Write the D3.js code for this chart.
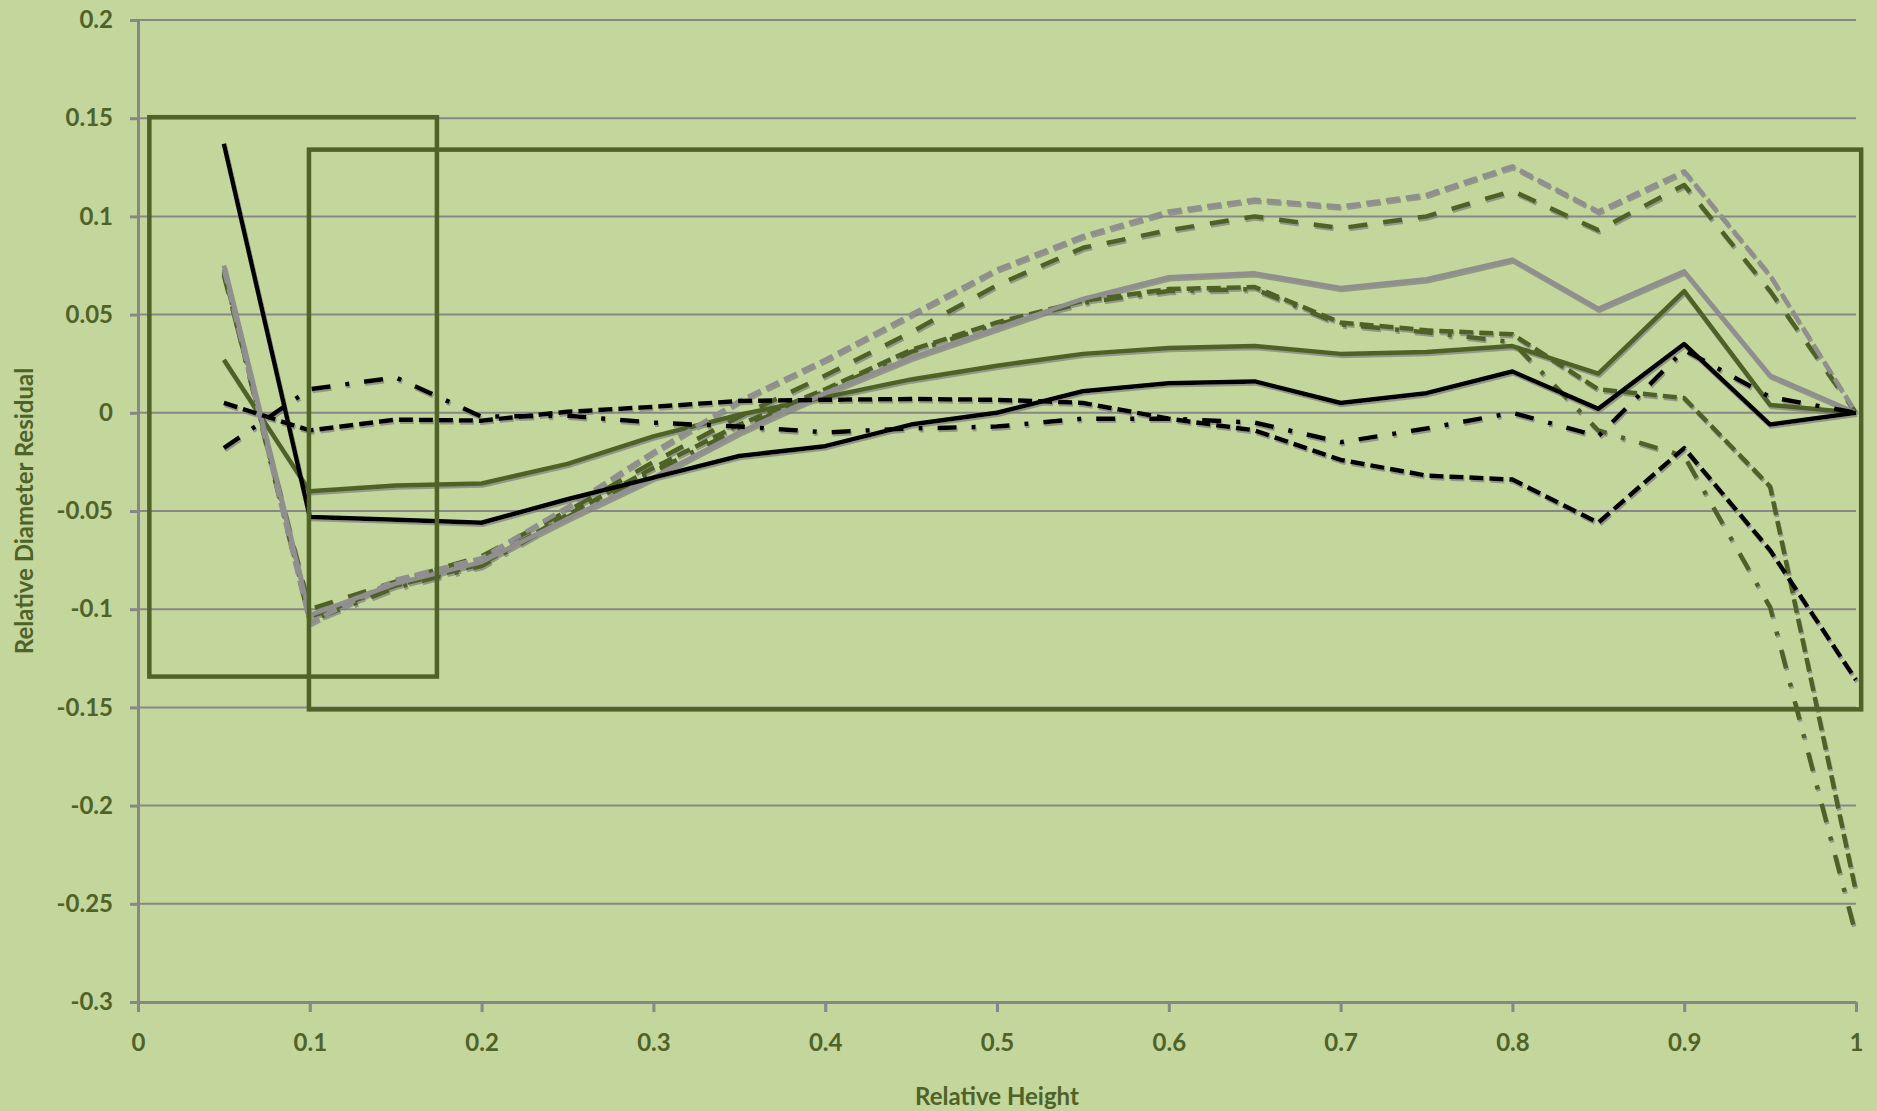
<!DOCTYPE html>
<html>
<head>
<meta charset="utf-8">
<script src="https://cdn.jsdelivr.net/npm/d3@7"></script>
<style>
  html, body { margin: 0; padding: 0; background: #c3d69b; overflow: hidden; }
  text { font-family: Lato, "Open Sans", sans-serif; font-weight: bold; fill: #4f6228; }
</style>
</head>
<body>
<script>
// relative height of each measurement
const heights = [0.05, 0.1, 0.15, 0.2, 0.25, 0.3, 0.35, 0.4, 0.45, 0.5,
                 0.55, 0.6, 0.65, 0.7, 0.75, 0.8, 0.85, 0.9, 0.95, 1.0];

const xTicks = [0, 0.1, 0.2, 0.3, 0.4, 0.5, 0.6, 0.7, 0.8, 0.9, 1];
const xTickLabels = ["0", "0.1", "0.2", "0.3", "0.4", "0.5", "0.6", "0.7", "0.8", "0.9", "1"];
const yTicks = [0.2, 0.15, 0.1, 0.05, 0, -0.05, -0.1, -0.15, -0.2, -0.25, -0.3];
const yTickLabels = ["0.2", "0.15", "0.1", "0.05", "0", "-0.05", "-0.1", "-0.15", "-0.2", "-0.25", "-0.3"];

// residual series
const blackSolid = [0.137, -0.053, -0.0545, -0.056, -0.044, -0.033, -0.022, -0.017, -0.006, 0.0,
                    0.011, 0.015, 0.016, 0.005, 0.010, 0.021, 0.002, 0.035, -0.006, 0.0];
const blackDash = [0.005, -0.009, -0.0035, -0.004, 0.0005, 0.003, 0.006, 0.0066, 0.007, 0.0066,
                   0.005, -0.003, -0.009, -0.024, -0.032, -0.034, -0.056, -0.018, -0.070, -0.136];
const blackDashDot = [-0.018, 0.012, 0.018, -0.002, -0.0015, -0.005, -0.007, -0.010, -0.008, -0.007,
                      -0.003, -0.003, -0.005, -0.015, -0.008, 0.0, -0.012, 0.032, 0.008, 0.0];
const oliveSolid = [0.027, -0.040, -0.037, -0.036, -0.026, -0.012, -0.001, 0.008, 0.017, 0.024,
                    0.030, 0.033, 0.034, 0.030, 0.031, 0.034, 0.020, 0.062, 0.004, 0.0];
const oliveLongDash = [0.070, -0.100, -0.086, -0.073, -0.050, -0.025, -0.002, 0.019, 0.041, 0.065,
                       0.084, 0.093, 0.100, 0.094, 0.100, 0.113, 0.093, 0.116, 0.062, 0.0];
const oliveDash = [0.072, -0.104, -0.088, -0.077, -0.052, -0.028, -0.006, 0.012, 0.032, 0.046,
                   0.057, 0.063, 0.064, 0.046, 0.042, 0.040, 0.012, 0.0075, -0.0375, -0.244];
const oliveDashDot = [0.071, -0.106, -0.089, -0.078, -0.053, -0.030, -0.008, 0.011, 0.031, 0.045,
                      0.056, 0.062, 0.063, 0.045, 0.041, 0.036, -0.009, -0.022, -0.099, -0.266];
const graySolid = [0.075, -0.103, -0.087, -0.076, -0.054, -0.033, -0.010, 0.010, 0.028, 0.043,
                   0.058, 0.069, 0.071, 0.0635, 0.068, 0.078, 0.053, 0.072, 0.019, 0.0];
const grayDash = [0.073, -0.107, -0.085, -0.074, -0.048, -0.020, 0.006, 0.027, 0.050, 0.073,
                  0.090, 0.1025, 0.1085, 0.105, 0.111, 0.1255, 0.1025, 0.123, 0.070, 0.0];

// highlight boxes, in data units
const boxHeights = [[0.0066, 0.174], [0.0995, 1.003]];
const boxResiduals = [[0.1505, -0.1343], [0.134, -0.151]];

const OLIVE = '#4f6228', GRAY = '#8f8f8f', GRID = '#878787';

const series = [
    {values: oliveLongDash, color: OLIVE, dash: '19,16'},
    {values: oliveDash, color: OLIVE, dash: '14,6'},
    {values: oliveDashDot, color: OLIVE, dash: '19,15,4,15'},
    {values: oliveSolid, color: OLIVE, dash: null},
    {values: grayDash, color: GRAY, dash: '14,6'},
    {values: graySolid, color: GRAY, dash: null},
    {values: blackDashDot, color: '#000', dash: '19,15,4,15'},
    {values: blackDash, color: '#000', dash: '14,6'},
    {values: blackSolid, color: '#000', dash: null}
];

const W = 1877, H = 1111;
const svg = d3.select('body').append('svg').attr('width', W).attr('height', H);

const x = d3.scaleLinear().domain([0, 1]).range([138, 1856]);
const y = d3.scaleLinear().domain([-0.3, 0.2]).range([1002, 20]);

const filter = svg.append('defs').append('filter')
    .attr('id', 'shadow').attr('filterUnits', 'userSpaceOnUse')
    .attr('x', 0).attr('y', 0).attr('width', W).attr('height', H);
filter.append('feDropShadow')
    .attr('dx', 1).attr('dy', 2).attr('stdDeviation', 0.6)
    .attr('flood-color', '#7d7d7d').attr('flood-opacity', 0.7);

// horizontal gridlines
svg.append('g').selectAll('line')
    .data(yTicks.filter(v => v > -0.3))
    .enter().append('line')
    .attr('x1', x(0)).attr('x2', x(1))
    .attr('y1', d => y(d)).attr('y2', d => y(d))
    .attr('stroke', GRID).attr('stroke-width', 2);

// axes
const yAxis = svg.append('g')
    .attr('transform', 'translate(' + x(0) + ',0)')
    .call(d3.axisLeft(y).tickValues(yTicks)
        .tickFormat((d, i) => yTickLabels[i])
        .tickSize(8).tickSizeOuter(0).tickPadding(17));
const xAxis = svg.append('g')
    .attr('transform', 'translate(0,' + y(-0.3) + ')')
    .call(d3.axisBottom(x).tickValues(xTicks)
        .tickFormat((d, i) => xTickLabels[i])
        .tickSize(10).tickSizeOuter(0).tickPadding(22));

[yAxis, xAxis].forEach(a => {
    a.select('.domain').attr('stroke', GRID).attr('stroke-width', 3);
    a.selectAll('.tick line').attr('stroke', GRID).attr('stroke-width', 3);
    a.selectAll('.tick text')
        .style('font-family', 'Lato, "Open Sans", sans-serif')
        .style('font-weight', 'bold')
        .attr('font-size', 24).attr('fill', OLIVE);
});

// data lines
const line = d3.line()
    .x((d, i) => x(heights[i]))
    .y(d => y(d));

svg.append('g').attr('filter', 'url(#shadow)')
    .selectAll('path')
    .data(series)
    .enter().append('path')
    .attr('d', d => line(d.values))
    .attr('fill', 'none')
    .attr('stroke', d => d.color)
    .attr('stroke-width', 4.5)
    .attr('stroke-linejoin', 'round')
    .attr('stroke-dasharray', d => d.dash);

// highlight rectangles
svg.append('g').selectAll('rect')
    .data(boxHeights)
    .enter().append('rect')
    .attr('x', d => x(d[0]))
    .attr('width', d => x(d[1]) - x(d[0]))
    .attr('y', (d, i) => y(boxResiduals[i][0]))
    .attr('height', (d, i) => y(boxResiduals[i][1]) - y(boxResiduals[i][0]))
    .attr('fill', 'none')
    .attr('stroke', OLIVE)
    .attr('stroke-width', 4.5);

// axis titles
svg.append('text')
    .attr('x', (x(0) + x(1)) / 2)
    .attr('y', 1105)
    .attr('text-anchor', 'middle')
    .attr('font-size', 24)
    .text('Relative Height');
svg.append('text')
    .attr('transform', 'translate(33,' + (y(-0.3) + y(0.2)) / 2 + ') rotate(-90)')
    .attr('text-anchor', 'middle')
    .attr('font-size', 24)
    .text('Relative Diameter Residual');
</script>
</body>
</html>
